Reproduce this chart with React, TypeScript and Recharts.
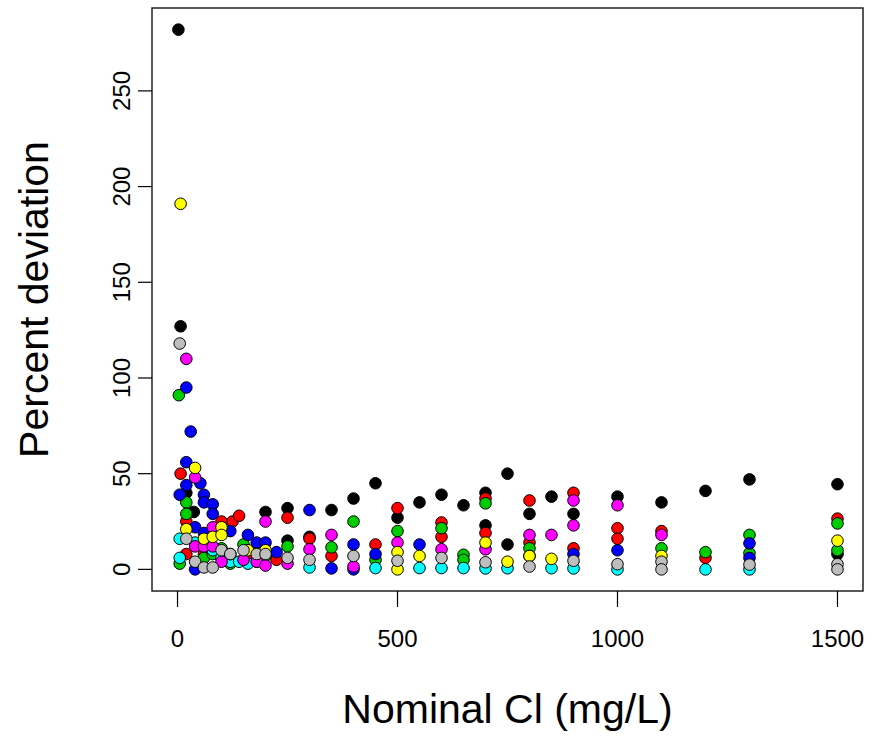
import { Label, ReferenceArea, Scatter, ScatterChart, XAxis, YAxis } from "recharts";

// nominal Cl (mg/L), percent deviation — one list per lab colour
const blackPts = [
  [2, 282], [7, 127], [20, 40], [37, 30], [200, 30], [250, 32], [250, 15], [300, 17], [350, 31], [400, 37],
  [450, 45], [500, 27], [550, 35], [600, 39], [650, 33.5], [700, 40], [700, 23], [750, 50], [750, 13],
  [800, 29], [850, 38], [900, 29], [1000, 38], [1100, 35], [1200, 41], [1300, 47], [1500, 44.5], [1500, 8]
];
const redPts = [
  [7, 50], [20, 25], [20, 8], [60, 8], [100, 25], [125, 25], [140, 28], [160, 5], [180, 4], [225, 5],
  [250, 27], [300, 16], [350, 7], [450, 13], [500, 32], [600, 24.5], [600, 17], [700, 37], [700, 19],
  [800, 36], [800, 14], [900, 40], [900, 11], [1000, 21.5], [1000, 16], [1100, 20], [1200, 6], [1500, 26.5]
];
const greenPts = [
  [3, 91], [5, 3], [20, 35], [20, 29], [60, 6], [80, 8], [100, 11], [120, 3], [150, 13], [200, 7],
  [250, 12], [350, 11.5], [400, 25], [450, 5], [500, 20], [600, 21.5], [650, 7.6], [650, 5], [700, 34.5],
  [800, 11], [1100, 11], [1200, 9], [1300, 18], [1300, 8.5], [1500, 24], [1500, 10]
];
const bluePts = [
  [20, 95], [30, 72], [20, 56], [20, 44], [52, 45], [5, 39], [60, 39], [60, 35], [80, 34], [80, 29],
  [40, 22], [60, 19], [120, 20], [160, 18], [180, 14], [200, 14], [225, 9], [40, 0], [300, 31], [350, 0.5],
  [400, 13], [400, 0], [450, 8], [550, 13], [800, 7], [900, 8], [1000, 10], [1300, 13.6], [1300, 6]
];
const cyanPts = [
  [5, 16], [5, 6], [40, 14], [80, 10], [100, 6], [120, 4], [140, 4], [160, 3], [300, 1], [450, 0.7],
  [550, 0.7], [600, 0.7], [650, 0.7], [700, 0.5], [750, 0.6], [850, 0.6], [900, 0.5], [1000, 0], [1200, 0], [1300, 0]
];
const magentaPts = [
  [20, 110], [40, 48], [200, 25], [40, 12], [60, 12], [80, 12], [80, 22], [100, 4], [150, 5], [180, 4],
  [200, 2], [250, 3], [300, 10.5], [350, 18], [400, 1.5], [500, 14], [600, 10.5], [700, 10.5], [800, 18],
  [850, 18], [900, 36], [900, 23], [1000, 33.5], [1100, 18]
];
const yellowPts = [
  [7, 191], [40, 53], [20, 21], [60, 16], [80, 17], [100, 22], [100, 18], [120, 8], [160, 10], [200, 10],
  [500, 9], [500, 0], [550, 7], [700, 14], [750, 4], [800, 7], [850, 5.5], [1100, 7], [1500, 15]
];
const grayPts = [
  [5, 118], [20, 16], [40, 4], [60, 1], [80, 1], [100, 10], [120, 8], [150, 10], [180, 8], [200, 8],
  [250, 6], [300, 5], [400, 7], [500, 4.5], [600, 6], [700, 3.7], [800, 1.5], [900, 4.5], [1000, 2.7],
  [1100, 4], [1100, 0], [1300, 2.5], [1500, 2.7], [1500, 0]
];

const xTicks = [0, 500, 1000, 1500];
const yTicks = [0, 50, 100, 150, 200, 250];
const xDomain = [-58, 1558];
const yDomain = [-11.3, 293.3];

const series = [
  { name: "black", color: "#000000", pts: blackPts },
  { name: "red", color: "#ff0000", pts: redPts },
  { name: "green", color: "#00cd00", pts: greenPts },
  { name: "blue", color: "#0000ff", pts: bluePts },
  { name: "cyan", color: "#00ffff", pts: cyanPts },
  { name: "magenta", color: "#ff00ff", pts: magentaPts },
  { name: "yellow", color: "#ffff00", pts: yellowPts },
  { name: "gray", color: "#bebebe", pts: grayPts }
];

const font = "'Liberation Sans', Arial, sans-serif";

const dot = (color: string) => (p: any) => (
  <circle cx={p.cx} cy={p.cy} r={5.8} fill={color} stroke="#000" strokeWidth={1} />
);

const XTick = (p: any) => (
  <text x={p.x} y={p.y + 40} textAnchor="middle" fontSize={24} fontFamily={font} fill="#000">
    {p.payload.value}
  </text>
);

const YTick = (p: any) => {
  const bx = p.x - 7.5;
  return (
    <text x={bx} y={p.y} transform={`rotate(-90, ${bx}, ${p.y})`} textAnchor="middle" fontSize={24} fontFamily={font} fill="#000">
      {p.payload.value}
    </text>
  );
};

export default function App() {
  return (
    <div style={{ position: "absolute", left: 0, top: 0, background: "#fff" }}>
      <ScatterChart width={873} height={736} margin={{ top: 8, right: 10, bottom: 85, left: 92 }}>
        <XAxis
          type="number"
          dataKey="x"
          domain={xDomain}
          ticks={xTicks}
          allowDataOverflow
          axisLine={false}
          tickLine={{ stroke: "#000", strokeWidth: 1.2 }}
          tickSize={16}
          tickMargin={0}
          height={60}
          tick={XTick}
        >
          <Label
            content={(props: any) => {
              const vb = props.viewBox;
              return (
                <text x={vb.x + vb.width / 2} y={vb.y + 131.5} textAnchor="middle" fontSize={41} fontFamily={font} fill="#000">
                  Nominal Cl (mg/L)
                </text>
              );
            }}
          />
        </XAxis>
        <YAxis
          type="number"
          dataKey="y"
          domain={yDomain}
          ticks={yTicks}
          allowDataOverflow
          axisLine={false}
          tickLine={{ stroke: "#000", strokeWidth: 1.2 }}
          tickSize={14}
          tickMargin={0}
          width={60}
          tick={YTick}
        >
          <Label
            content={(props: any) => {
              const vb = props.viewBox;
              const bx = vb.x - 44.5;
              const cy = vb.y + vb.height / 2;
              return (
                <text x={bx} y={cy} transform={`rotate(-90, ${bx}, ${cy})`} textAnchor="middle" fontSize={41} fontFamily={font} fill="#000">
                  Percent deviation
                </text>
              );
            }}
          />
        </YAxis>
        <ReferenceArea x1={xDomain[0]} x2={xDomain[1]} y1={yDomain[0]} y2={yDomain[1]} fill="none" stroke="#222" strokeWidth={1.5} fillOpacity={0} />
        {series.map((s) => (
          <Scatter
            key={s.name}
            name={s.name}
            data={s.pts.map(([x, y]) => ({ x, y }))}
            shape={dot(s.color)}
            isAnimationActive={false}
          />
        ))}
      </ScatterChart>
    </div>
  );
}
